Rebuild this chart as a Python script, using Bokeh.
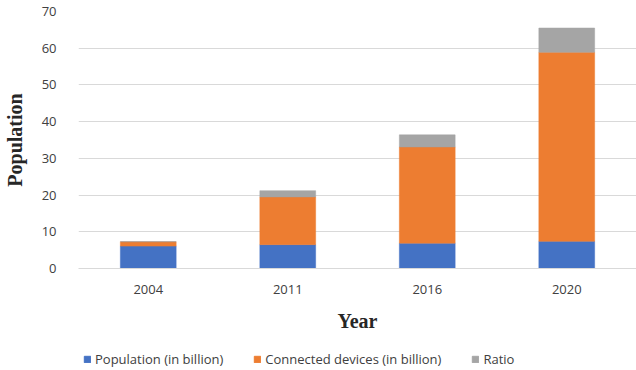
from bokeh.plotting import figure
from bokeh.layouts import column
from bokeh.models import Range1d, Legend, LegendItem, ColumnDataSource
from bokeh.embed import file_html
from bokeh.resources import INLINE

years = ["2004", "2011", "2016", "2020"]
population = [6.1, 6.5, 6.9, 7.4]
devices = [1.2, 13.0, 26.2, 51.5]
ratio = [0.0, 1.7, 3.3, 6.6]
series = ["population", "devices", "ratio"]
labels = ["Population (in billion)", "Connected devices (in billion)", "Ratio"]
colors = ["#4472C4", "#ED7D31", "#A5A5A5"]
yticks = [0, 10, 20, 30, 40, 50, 60, 70]

source = ColumnDataSource(dict(years=years, population=population, devices=devices, ratio=ratio))

p = figure(x_range=years, y_range=Range1d(0, 70), width=636, height=340,
           output_backend="svg", toolbar_location=None,
           min_border_top=11, min_border_right=0, min_border_left=68,
           min_border_bottom=72)

p.vbar_stack(series, x="years", width=0.4, color=colors, source=source,
             line_color=colors, line_width=0.5)

p.outline_line_color = None
p.xgrid.grid_line_color = None
p.ygrid.grid_line_color = "#d9d9d9"
p.ygrid.grid_line_width = 1
p.yaxis.ticker = yticks

for ax in (p.xaxis[0], p.yaxis[0]):
    ax.major_tick_line_color = None
    ax.minor_tick_line_color = None
    ax.major_label_text_font = "Open Sans"
    ax.major_label_text_font_size = "13px"
    ax.major_label_text_color = "#404040"
    ax.axis_label_text_font = "Liberation Serif"
    ax.axis_label_text_font_style = "bold"
    ax.axis_label_text_font_size = "20px"
    ax.axis_label_text_color = "#262626"

p.yaxis.axis_line_color = None
p.xaxis.axis_line_color = "#d9d9d9"
p.yaxis.axis_label = "Population"
p.xaxis.axis_label = "Year"
p.yaxis.major_label_standoff = 16
p.yaxis.axis_label_standoff = 13
p.xaxis.major_label_standoff = 10
p.xaxis.axis_label_standoff = 13

# legend strip below the chart
q = figure(x_range=years, y_range=Range1d(100, 101), width=636, height=30,
           output_backend="svg", toolbar_location=None,
           min_border=0, x_axis_location=None, y_axis_location=None)
q.outline_line_color = None
q.grid.grid_line_color = None
q_renderers = q.vbar_stack(series, x="years", width=0.4, color=colors, source=source)

legend = Legend(items=[LegendItem(label=l, renderers=[r]) for l, r in zip(labels, q_renderers)],
                orientation="horizontal", location=(5, 2),
                glyph_width=8, glyph_height=8, label_standoff=4, spacing=30,
                label_text_font="Open Sans", label_text_font_size="13px",
                label_text_color="#404040", border_line_color=None,
                padding=0, margin=0, background_fill_alpha=0)
q.add_layout(legend, "center")

layout = column(p, q, spacing=0)
open("out.html", "w").write(file_html(layout, INLINE))
